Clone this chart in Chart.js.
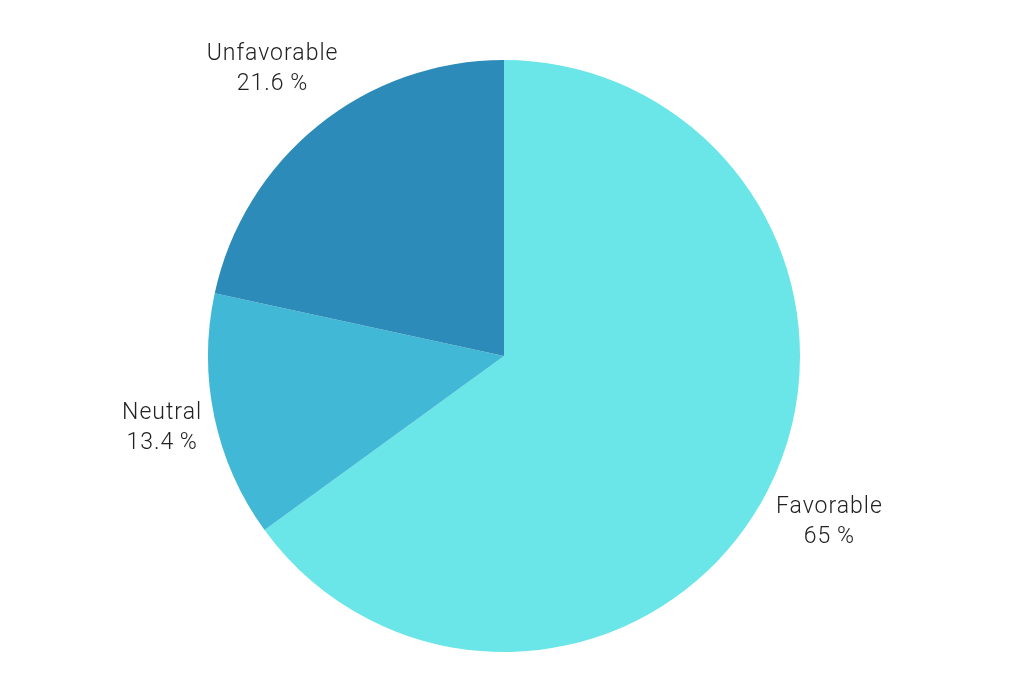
<!DOCTYPE html>
<html>
<head>
<meta charset="utf-8">
<script src="https://cdn.jsdelivr.net/npm/chart.js@4"></script>
<style>
html,body{margin:0;padding:0;background:#fff;}
#wrap{width:1024px;height:692px;}
</style>
</head>
<body>
<div id="wrap"><canvas id="c" width="1024" height="692"></canvas></div>
<script>
const categories = ["Favorable", "Neutral", "Unfavorable"];
const values = [65, 13.4, 21.6];
const valueLabels = ["65\u2009%", "13.4\u2009%", "21.6\u2009%"];
const colors = ["#6AE5E8", "#41B8D5", "#2D8BBA"];

const FONT = '300 23px Roboto, "Liberation Sans", sans-serif';
const labelPlugin = {
  id: 'outLabels',
  afterDatasetsDraw(chart) {
    const ctx = chart.ctx;
    const meta = chart.getDatasetMeta(0);
    ctx.save();
    ctx.font = FONT;
    try { ctx.letterSpacing = '1px'; } catch (e) {}
    ctx.fillStyle = '#222222';
    ctx.textAlign = 'center';
    ctx.textBaseline = 'middle';
    const lh = 30;
    meta.data.forEach((arc, i) => {
      const p = arc.getProps(['x','y','startAngle','endAngle','outerRadius'], true);
      const mid = (p.startAngle + p.endAngle) / 2;
      const dx = Math.cos(mid), dy = Math.sin(mid);
      const l1 = categories[i], l2 = valueLabels[i];
      const w = Math.max(ctx.measureText(l1).width, ctx.measureText(l2).width);
      const h = lh * 2;
      const ext = Math.abs(dx) * w / 2 + Math.abs(dy) * h / 2;
      const d = p.outerRadius + 8 + ext;
      const cx = p.x + dx * d, cy = p.y + dy * d;
      ctx.fillText(l1, cx, cy - lh / 2);
      ctx.fillText(l2, cx, cy + lh / 2);
    });
    ctx.restore();
  }
};

new Chart(document.getElementById('c'), {
  type: 'pie',
  data: {
    labels: categories,
    datasets: [{ data: values, backgroundColor: colors, borderWidth: 0 }]
  },
  options: {
    responsive: false,
    animation: false,
    layout: { padding: { top: 60, bottom: 40, left: 0, right: 16 } },
    plugins: { legend: { display: false }, tooltip: { enabled: false } }
  },
  plugins: [labelPlugin]
});
</script>
</body>
</html>
